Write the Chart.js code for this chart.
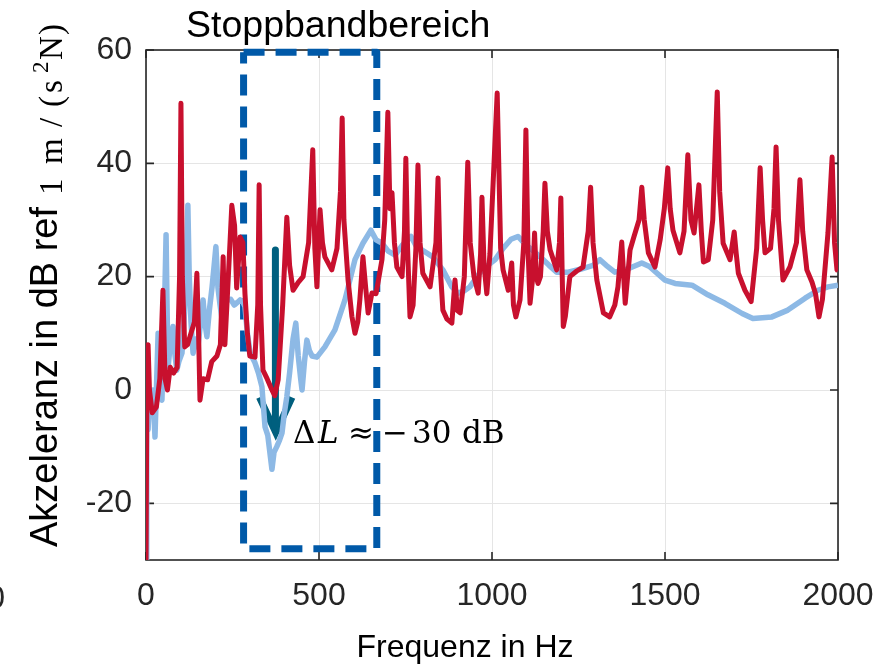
<!DOCTYPE html>
<html>
<head>
<meta charset="utf-8">
<script src="https://cdn.jsdelivr.net/npm/chart.js@4.4.1/dist/chart.umd.min.js"></script>
<style>
  html, body { margin: 0; padding: 0; background: #fff; }
  canvas { display: block; }
</style>
</head>
<body>
<canvas id="frf" width="884" height="664"></canvas>
<script>
// red curve: plain plate
const freqRed = [0, 3, 6, 10, 18, 30, 40, 49, 55, 62, 70, 80, 90, 97, 101, 105, 112, 120, 130, 140, 147, 152, 156, 165, 178, 190, 205, 215, 223, 228, 238, 248, 256, 262, 272, 280, 286, 293, 300, 315, 323, 327, 331, 338, 350, 364, 372, 382, 395, 407, 415, 425, 440, 454, 470, 482, 488, 494, 503, 510, 517, 537, 552, 562, 567, 572, 584, 595, 604, 612, 618, 627, 635, 642, 653, 665, 682, 690, 699, 705, 711, 718, 725, 740, 747, 751, 756, 763, 772, 780, 786, 792, 800, 821, 838, 844, 850, 858, 870, 884, 893, 900, 908, 920, 930, 937, 948, 960, 967, 971, 977, 985, 994, 1015, 1025, 1032, 1047, 1057, 1062, 1069, 1081, 1092, 1098, 1104, 1110, 1118, 1123, 1128, 1133, 1140, 1148, 1153, 1160, 1168, 1187, 1195, 1199, 1203, 1206, 1212, 1225, 1245, 1263, 1278, 1285, 1292, 1303, 1322, 1340, 1355, 1364, 1375, 1385, 1399, 1410, 1425, 1433, 1440, 1452, 1471, 1486, 1498, 1508, 1515, 1523, 1543, 1555, 1566, 1575, 1584, 1598, 1605, 1611, 1625, 1638, 1651, 1658, 1668, 1688, 1700, 1706, 1712, 1731, 1749, 1765, 1775, 1782, 1789, 1805, 1815, 1821, 1828, 1841, 1861, 1880, 1890, 1898, 1910, 1925, 1935, 1945, 1955, 1971, 1983, 1990, 1997, 2000];
const levelRed = [-30, 5, 8, 0, -4, -3, 2, 17.6, 2, 0, 4, 3, 4, 20, 50.6, 20, 7.6, 8, 10, 12, 20.6, 10, -1.8, 2, 1.8, 5, 6, 8, 23.5, 8, 20, 32.6, 29, 18, 27, 26, 17, 10, 6, 5.8, 15, 36.2, 15, 3.5, 2, 0, -1, 1.8, 15, 30.5, 22, 17.6, 19, 20, 26, 42.4, 25, 18.2, 31.8, 26, 23.5, 21.2, 25, 35, 48, 30, 19.4, 13, 10, 12, 15.9, 23.5, 18, 13.6, 17.1, 17, 23, 30, 49, 32, 34.8, 26, 21.7, 20, 28, 40.9, 25, 12.9, 15, 25, 39.7, 26, 20.6, 18.2, 26, 37.4, 22, 14.1, 12.5, 11.8, 19.4, 14, 13.6, 20, 40.2, 26, 20, 17.1, 24, 34, 22, 17, 24, 52.4, 25, 21.2, 17.6, 22.4, 15, 12.9, 15.9, 26, 45.9, 25, 15.3, 20, 27.7, 20, 18.8, 20, 28, 36.5, 28, 24.7, 21.2, 26, 33.9, 20, 11.2, 13, 20, 21, 21.7, 28, 35.8, 26, 19.4, 13.6, 12.9, 15, 18.2, 26.1, 15.3, 24.7, 27, 30, 35.8, 30, 24.2, 21.7, 26.5, 32, 39.2, 32, 28.2, 24.2, 28, 41.5, 30, 27.7, 36.2, 28, 22.6, 23, 30, 52.6, 35, 25.9, 23, 27.9, 24, 20.6, 17.6, 15.6, 25, 39.2, 30, 24.2, 25, 32, 42.9, 30, 19.4, 21.7, 26, 37.1, 28, 21.2, 19, 17, 12.9, 16, 27.7, 41.1, 26, 21.2, 21];

// light blue curve: metamaterial plate
const freqBlue = [0, 2, 3, 6, 10, 14, 20, 26, 30, 35, 40, 46, 52, 58, 62, 64, 70, 78, 84, 89, 95, 104, 110, 116, 121, 125, 130, 136, 143, 150, 158, 165, 170, 176, 183, 191, 197, 202, 208, 214, 220, 227, 234, 245, 255, 265, 272, 280, 286, 293, 301, 315, 325, 335, 344, 352, 358, 364, 370, 378, 385, 393, 400, 407, 415, 425, 433, 440, 447, 451, 458, 465, 472, 480, 494, 517, 546, 575, 604, 627, 650, 665, 682, 700, 720, 740, 766, 780, 798, 829, 858, 884, 902, 920, 936, 971, 1009, 1032, 1055, 1075, 1100, 1120, 1139, 1165, 1187, 1220, 1255, 1292, 1312, 1330, 1355, 1390, 1433, 1455, 1477, 1500, 1529, 1578, 1624, 1673, 1723, 1754, 1809, 1855, 1905, 1942, 1971, 2000];
const levelBlue = [-30, -5, 1.8, -7, -2, -3, 0, -8.3, 0, 10, 2, -1.8, 10, 27.4, 10, 4.1, 8, 11.2, 6, 3.5, 5, 6.5, 12, 20, 32.6, 20, 12, 6.5, 9, 7.6, 12, 15.9, 12, 9.4, 14, 18.2, 22, 25.3, 18, 15, 12.4, 15.9, 15.9, 16, 15, 15.5, 15.9, 15.5, 14.7, 10, 6.5, 4.8, 3, 0.6, -6.5, -8, -11, -14, -11, -10, -9, -7.6, -4, -1.2, 3, 9, 11.8, 6, 2, 0, 5, 8.8, 7, 6, 5.8, 7.6, 10.6, 15.9, 23, 25.9, 28.2, 26.5, 25.9, 24.5, 23.8, 25.5, 27.1, 25.5, 24.7, 23.5, 21.2, 18.2, 17.1, 17.5, 18.2, 21.2, 23, 25, 26.6, 27.1, 25.5, 24.5, 23.5, 22, 20.8, 20.8, 21.3, 22, 23, 22, 20.8, 21.3, 22.4, 21.8, 20.6, 19.4, 18.8, 18.5, 16.8, 15.3, 13.5, 12.6, 12.9, 14.1, 16.2, 17.6, 18.2, 18.5];

// stop band rectangle and arrow (data units)
const boxX = [282, 667, 667, 282, 282];
const boxY = [59.6, 59.6, -28, -28, 59.6];
const arrowX = [374, 374];
const arrowY = [24.7, -6.5];
const headX = [328, 375, 422];
const headY = [-1.3, -7.5, -1.3];

const xTicks = [0, 500, 1000, 1500, 2000];
const yTicks = [-20, 0, 20, 40, 60];

const RED = '#C8102E';
const BLUE = '#8DB9E5';
const BOX = '#0059A8';
const ARROW = '#005F7E';
const INK = '#262626';
const SANS = '"Liberation Sans", Arial, sans-serif';
const SERIF = '"Liberation Serif", "Times New Roman", serif';
const MATH = '"DejaVu Serif", serif';

function toPts(xs, ys) {
  return xs.map((v, i) => ({x: v, y: ys[i]}));
}

function line(xs, ys, color, width, extra) {
  return Object.assign({
    data: toPts(xs, ys),
    borderColor: color,
    borderWidth: width,
    pointRadius: 0,
    tension: 0,
    fill: false,
    borderJoinStyle: 'round',
    borderCapStyle: 'butt'
  }, extra || {});
}

const decor = {
  id: 'decor',
  beforeDatasetsDraw(chart) {
    const {ctx, chartArea: a, scales: {x, y}} = chart;
    ctx.save();
    ctx.strokeStyle = INK;
    ctx.lineWidth = 1.6;
    ctx.strokeRect(a.left, a.top, a.right - a.left, a.bottom - a.top);
    ctx.beginPath();
    xTicks.forEach(v => {
      const p = x.getPixelForValue(v);
      ctx.moveTo(p, a.bottom); ctx.lineTo(p, a.bottom - 8);
      ctx.moveTo(p, a.top); ctx.lineTo(p, a.top + 8);
    });
    yTicks.forEach(v => {
      const p = y.getPixelForValue(v);
      ctx.moveTo(a.left, p); ctx.lineTo(a.left + 8, p);
      ctx.moveTo(a.right, p); ctx.lineTo(a.right - 8, p);
    });
    ctx.stroke();
    ctx.restore();
  },
  afterDraw(chart) {
    const {ctx, scales: {x}} = chart;
    ctx.save();
    ctx.fillStyle = INK;
    ctx.textBaseline = 'alphabetic';

    // clipped tick label of a neighbouring axis
    ctx.font = '32px ' + SANS;
    ctx.textAlign = 'center';
    ctx.fillText('-500', x.getPixelForValue(-500), 608);

    // x label
    ctx.fillStyle = '#000';
    ctx.fillText('Frequenz in Hz', 465, 657);

    // title
    ctx.textAlign = 'left';
    ctx.font = '37.5px ' + SANS;
    ctx.fillText('Stoppbandbereich', 186, 37);

    // y label, rotated: sans text, then serif unit
    ctx.save();
    ctx.translate(0, 547);
    ctx.rotate(-Math.PI / 2);
    ctx.font = '38px ' + SANS;
    ctx.fillText('Akzeleranz in dB ref', 0, 57);
    ctx.font = '33px ' + SERIF;
    const parts = [['1', 352], ['m', 383], ['/', 420], ['(', 440], ['s', 454], ['N', 487], [')', 512]];
    parts.forEach(([t, off]) => ctx.fillText(t, off, 62));
    ctx.font = '23px ' + SERIF;
    ctx.fillText('2', 474, 48);
    ctx.restore();

    // level drop annotation
    ctx.font = '31px ' + MATH;
    ctx.fillText('\u0394', 293, 443);
    ctx.fillText('\u2248', 348, 443);
    ctx.fillText('\u2212', 382, 443);
    ctx.fillText('30', 412, 443);
    ctx.fillText('dB', 462, 443);
    ctx.font = 'italic 31px ' + MATH;
    ctx.fillText('L', 318, 443);
    ctx.restore();
  }
};

new Chart(document.getElementById('frf'), {
  type: 'line',
  data: {
    datasets: [
      line(freqRed, levelRed, RED, 5),
      line(freqBlue, levelBlue, BLUE, 5.5),
      line(boxX, boxY, BOX, 7, {borderDash: [21, 11], clip: false}),
      line(arrowX, arrowY, ARROW, 7),
      line(headX, headY, ARROW, 7, {borderJoinStyle: 'miter'})
    ]
  },
  options: {
    responsive: false,
    animation: false,
    layout: {padding: {top: 50, right: 46, left: 0, bottom: 0}},
    plugins: {legend: {display: false}, tooltip: {enabled: false}},
    scales: {
      x: {
        type: 'linear',
        min: 0,
        max: 2000,
        afterFit: s => { s.height = 104; s.paddingLeft = 0; s.paddingRight = 0; },
        afterBuildTicks: s => { s.ticks = xTicks.map(v => ({value: v})); },
        grid: {color: '#E5E5E5', lineWidth: 1, drawTicks: false},
        border: {display: false},
        ticks: {color: INK, font: {family: SANS, size: 32}, padding: 17, maxRotation: 0, callback: v => String(v)}
      },
      y: {
        type: 'linear',
        min: -30,
        max: 60,
        afterFit: s => { s.width = 146; s.paddingTop = 0; s.paddingBottom = 0; },
        afterBuildTicks: s => { s.ticks = yTicks.map(v => ({value: v})); },
        grid: {color: '#E5E5E5', lineWidth: 1, drawTicks: false},
        border: {display: false},
        ticks: {color: INK, font: {family: SANS, size: 32}, padding: 14, callback: v => String(v)}
      }
    }
  },
  plugins: [decor]
});
</script>
</body>
</html>
